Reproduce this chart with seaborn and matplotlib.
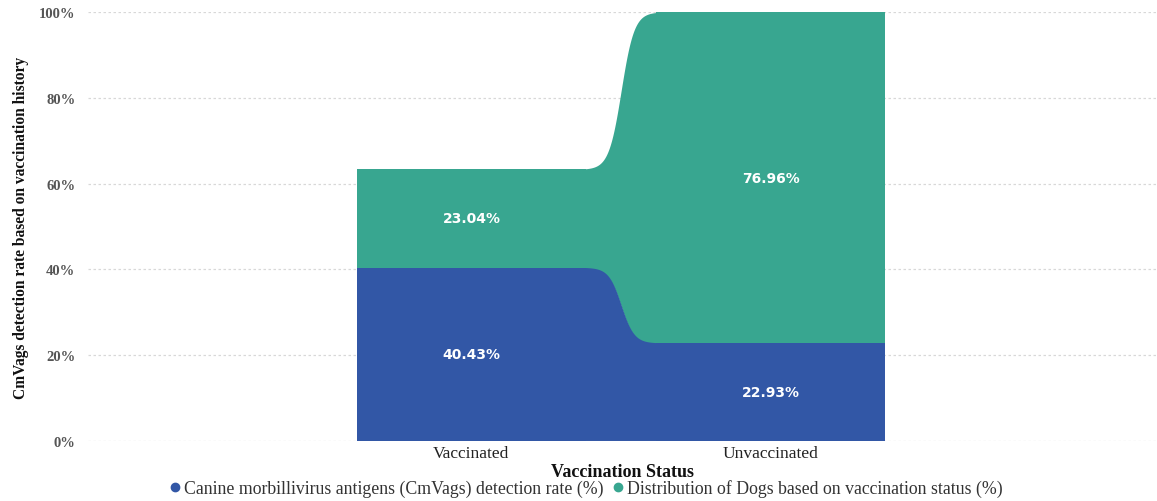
import numpy as np
import pandas as pd
import matplotlib
matplotlib.use("Agg")
import matplotlib.pyplot as plt
from matplotlib.lines import Line2D
import seaborn as sns

# Data
categories = ["Vaccinated", "Unvaccinated"]
detection_rate = [40.43, 22.93]      # Canine morbillivirus antigens (CmVags) detection rate (%)
dog_distribution = [23.04, 76.96]    # Distribution of Dogs based on vaccination status (%)
y_ticks = [0, 20, 40, 60, 80, 100]
y_tick_labels = ["0%", "20%", "40%", "60%", "80%", "100%"]

series_names = [
    "Canine morbillivirus antigens (CmVags) detection rate (%)",
    "Distribution of Dogs based on vaccination status (%)",
]

BLUE = "#3257A6"
GREEN = "#38A690"
SERIF = ["Liberation Serif", "DejaVu Serif"]

sns.set_theme(style="white")
plt.rcParams["font.family"] = ["DejaVu Sans"]

df = pd.DataFrame({
    "status": categories,
    "detection": detection_rate,
    "distribution": dog_distribution,
})
df["total"] = df["detection"] + df["distribution"]

fig = plt.figure(figsize=(11.57, 5.02), dpi=100)
ax = fig.add_axes([88 / 1157, 60 / 502, 1 - 88 / 1157, (442 - 13) / 502])

bar_w = 0.765

# stacked bars: full height in green, detection part in blue on top of it
sns.barplot(data=df, x="status", y="total", color=GREEN, saturation=1,
            width=bar_w, ax=ax, linewidth=0, zorder=3)
sns.barplot(data=df, x="status", y="detection", color=BLUE, saturation=1,
            width=bar_w, ax=ax, linewidth=0, zorder=4)

# ribbons joining the two columns (slightly tucked under the bars)
x0, x1 = 0 + bar_w / 2, 1 - bar_w / 2
t = np.linspace(0, 1, 300)
k = 5.5
ease = 0.5 + 0.5 * np.tanh(k * (t - 0.5)) / np.tanh(k / 2)
xs = x0 + (x1 - x0) * t
xs = np.concatenate([[x0 - 0.01], xs, [x1 + 0.01]])
ease = np.concatenate([[0.0], ease, [1.0]])
det = np.array(detection_rate)
tot = df["total"].to_numpy()
blue_top = det[0] + (det[1] - det[0]) * ease
green_top = tot[0] + (tot[1] - tot[0]) * ease
ax.fill_between(xs, 0.12, blue_top, color=BLUE, linewidth=0, zorder=2.5)
ax.fill_between(xs, blue_top - 0.3, green_top, color=GREEN, linewidth=0, zorder=2)

# value labels centred in each segment
for i in range(len(categories)):
    ax.text(i, det[i] / 2, f"{det[i]:.2f}%", ha="center", va="center",
            color="white", fontsize=10, fontweight="bold", zorder=5)
    ax.text(i, det[i] + dog_distribution[i] / 2, f"{dog_distribution[i]:.2f}%",
            ha="center", va="center", color="white", fontsize=10,
            fontweight="bold", zorder=5)

ax.set_xlim(-1.28, 2.289)
ax.set_ylim(0, 100)
ax.set_yticks(y_ticks)
ax.set_yticklabels(y_tick_labels, family=SERIF, fontweight="bold",
                   fontsize=10.5, color="#555555")
ax.set_xticks(range(len(categories)))
ax.set_xticklabels(categories, family=SERIF, fontsize=12.5, color="#222222")
ax.tick_params(axis="y", length=0, pad=9)
ax.tick_params(axis="x", length=0, pad=3)
ax.yaxis.grid(True, linestyle=(0, (2, 2)), color="#d8d8d8", linewidth=0.9, zorder=0)
ax.set_axisbelow(True)
for s in ax.spines.values():
    s.set_visible(False)

ax.set_xlabel("Vaccination Status", family=SERIF, fontweight="bold",
              fontsize=13, color="#111111", labelpad=1)
ax.set_ylabel("CmVags detection rate based on vaccination history", family=SERIF,
              fontweight="bold", fontsize=11.2, color="#111111", labelpad=7)

handles = [Line2D([], [], marker="o", linestyle="", markersize=6, color=c)
           for c in (BLUE, GREEN)]
fig.legend(handles, series_names, loc="center", bbox_to_anchor=(0.505, 0.026),
           ncol=2, frameon=False, handletextpad=0.0, columnspacing=0.3,
           handlelength=1.0, prop={"family": SERIF, "size": 12.8},
           labelcolor="#333333")

fig.savefig("out.png", dpi=100)
